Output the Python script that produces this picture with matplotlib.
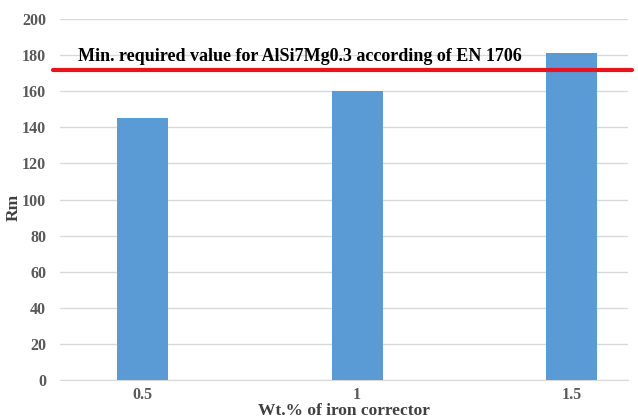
import numpy as np
import matplotlib.pyplot as plt

# data
categories = ["0.5", "1", "1.5"]
rm_values = [145, 160, 181]
min_required = 172
min_label = "Min. required value for AlSi7Mg0.3 according of EN 1706"

plt.rcParams['font.family'] = ['Liberation Serif', 'DejaVu Serif']

fig = plt.figure(figsize=(6.38, 4.18), dpi=100)
ax = fig.add_axes([60/638, 1-380/418, 568/638, 361/418])

x = np.arange(len(categories))
ax.bar(x, rm_values, width=0.238, color='#5B9BD5', zorder=3)

ax.set_ylim(0, 200)
ax.set_xlim(-0.385, 2.263)
ax.set_yticks(range(0, 201, 20))
ax.set_xticks(x)
ax.set_xticklabels(categories)
ax.grid(axis='y', color='#D9D9D9', linewidth=1, zorder=0)
for s in ['top', 'right', 'left']:
    ax.spines[s].set_visible(False)
ax.spines['bottom'].set_color('#D9D9D9')
ax.tick_params(axis='y', length=0, labelsize=11.5, labelcolor='#595959', pad=10)
ax.tick_params(axis='x', length=0, labelsize=11.5, labelcolor='#595959', pad=5)
for lab in ax.get_xticklabels() + ax.get_yticklabels():
    lab.set_fontweight('bold')

# required minimum line
ax.plot([-0.417, 2.282], [min_required, min_required], color='#E8141B',
        linewidth=3, zorder=4, clip_on=False, solid_capstyle='round')
ax.text(-0.301, min_required + 2.5, min_label, fontsize=13, fontweight='bold',
        color='black', va='bottom', ha='left', zorder=5)

ax.set_xlabel("Wt.% of iron corrector", fontsize=12.5, fontweight='bold',
              color='#404040', labelpad=0)
fig.text(14/638, 1-207/418, "Rm", rotation=90, fontsize=12.5, fontweight='bold',
         color='#404040', ha='center', va='center')

fig.savefig("out.png", dpi=100)
